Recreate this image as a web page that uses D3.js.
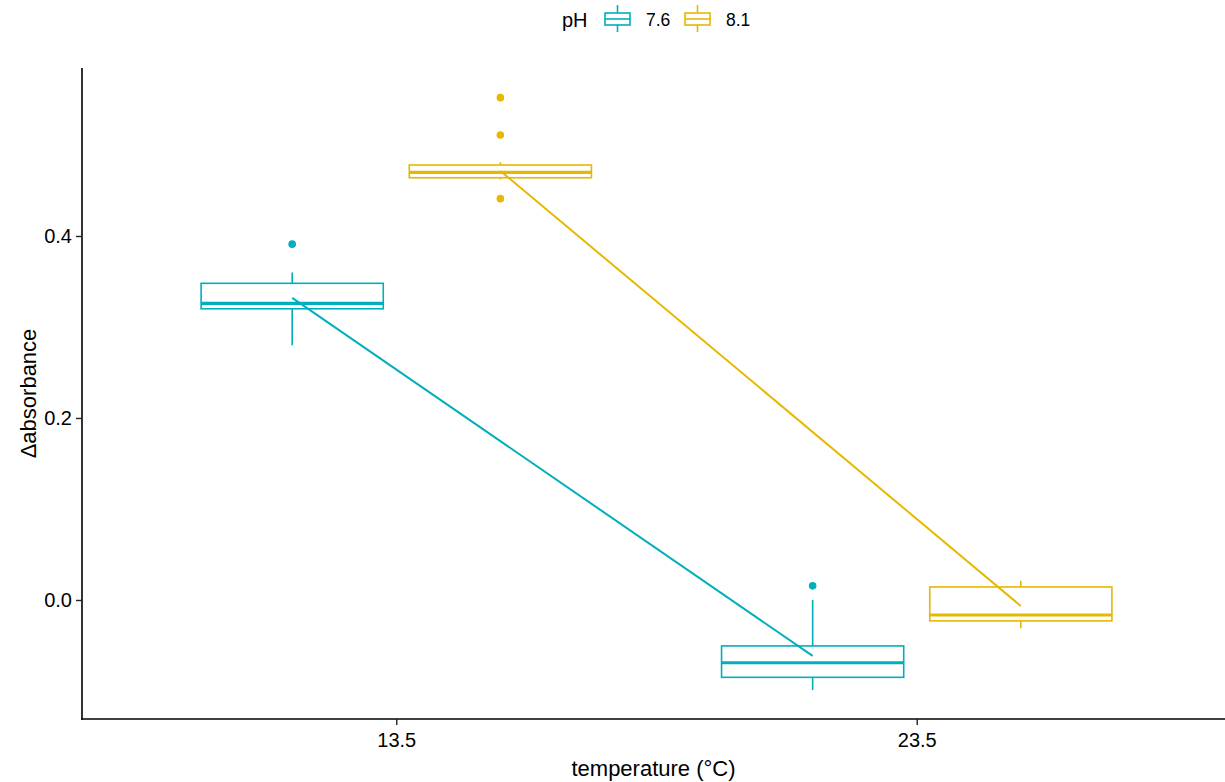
<!DOCTYPE html>
<meta charset="utf-8">
<script src="https://d3js.org/d3.v7.min.js"></script>
<style>
  body { margin: 0; background: #fff; }
  text { font-family: "Liberation Sans", Arial, sans-serif; }
</style>
<div id="my_dataviz"></div>
<script>

// data
const temps = ["13.5", "23.5"];
const phLevels = ["7.6", "8.1"];
const colors = ["#00AFBB", "#E7B800"];

// box stats, one entry per temp, per pH series
const whiskerLow  = { "7.6": [0.280, -0.099], "8.1": [0.462, -0.031] };
const q1          = { "7.6": [0.320, -0.085], "8.1": [0.464, -0.023] };
const medians     = { "7.6": [0.326, -0.069], "8.1": [0.470, -0.0165] };
const q3          = { "7.6": [0.348, -0.0505], "8.1": [0.478, 0.0143] };
const whiskerHigh = { "7.6": [0.360, 0.000], "8.1": [0.481, 0.021] };
const means       = { "7.6": [0.332, -0.0615], "8.1": [0.4715, -0.0066] };
const outliers    = { "7.6": [[0.391], [0.0155]], "8.1": [[0.552, 0.511, 0.441], []] };

const yTicks = [0.0, 0.2, 0.4];

var W = 1225, H = 782;
var margin = {top: 68, right: 0, bottom: 63, left: 82};

var svg = d3.select("#my_dataviz")
    .append("svg")
    .attr("width", W)
    .attr("height", H);

// x positions like ggplot discrete axis (0.6 expansion)
var x = d3.scalePoint()
    .domain(temps)
    .range([margin.left + 2, W + 4])
    .padding(0.6);
var step = x.step();
var dodge = d3.scaleOrdinal().domain(phLevels).range([-0.2 * step, 0.2 * step]);
var boxW = 0.35 * step;

var y = d3.scaleLinear()
    .domain([-0.1308, 0.5846])
    .range([H - margin.bottom, margin.top]);

var color = d3.scaleOrdinal().domain(phLevels).range(colors);

// axes
var yAxis = svg.append("g")
    .attr("transform", "translate(" + margin.left + ",0)")
    .call(d3.axisLeft(y).tickValues(yTicks).tickFormat(d3.format(".1f")).tickSize(6).tickPadding(4));
var xAxis = svg.append("g")
    .attr("transform", "translate(0," + (H - margin.bottom) + ")")
    .call(d3.axisBottom(x).tickSize(6).tickPadding(8));

[xAxis, yAxis].forEach(function(a) {
  a.attr("font-size", null).attr("font-family", null);
  a.select(".domain").attr("stroke", "#000").attr("stroke-width", 1.6);
  a.selectAll(".tick line").attr("stroke", "#222").attr("stroke-width", 1.4);
  a.selectAll(".tick text").attr("fill", "#000").style("font-size", "20px");
});
// stretch x domain line to the full panel
xAxis.select(".domain").attr("d", "M" + (margin.left - 0.8) + ",0H" + W);
yAxis.select(".domain").attr("d", "M0," + margin.top + "V" + (H - margin.bottom + 0.8));

svg.append("text")
    .attr("x", (margin.left + W) / 2)
    .attr("y", 776)
    .attr("text-anchor", "middle")
    .style("font-size", "22px")
    .text("temperature (°C)");

svg.append("text")
    .attr("transform", "translate(36," + ((margin.top + H - margin.bottom) / 2) + ") rotate(-90)")
    .attr("text-anchor", "middle")
    .style("font-size", "22px")
    .text("Δabsorbance");

// boxplots
phLevels.forEach(function(ph) {
  var c = color(ph);
  var g = svg.append("g");
  temps.forEach(function(t, i) {
    var cx = x(t) + dodge(ph);
    g.append("line")
        .attr("x1", cx).attr("x2", cx)
        .attr("y1", y(whiskerHigh[ph][i])).attr("y2", y(q3[ph][i]))
        .attr("stroke", c).attr("stroke-width", 1.6);
    g.append("line")
        .attr("x1", cx).attr("x2", cx)
        .attr("y1", y(q1[ph][i])).attr("y2", y(whiskerLow[ph][i]))
        .attr("stroke", c).attr("stroke-width", 1.6);
    g.append("rect")
        .attr("x", cx - boxW / 2)
        .attr("width", boxW)
        .attr("y", y(q3[ph][i]))
        .attr("height", y(q1[ph][i]) - y(q3[ph][i]))
        .attr("fill", "#fff")
        .attr("stroke", c).attr("stroke-width", 1.6);
    g.append("line")
        .attr("x1", cx - boxW / 2).attr("x2", cx + boxW / 2)
        .attr("y1", y(medians[ph][i])).attr("y2", y(medians[ph][i]))
        .attr("stroke", c).attr("stroke-width", 3.2);
    g.selectAll(null).data(outliers[ph][i]).enter()
        .append("circle")
        .attr("cx", cx)
        .attr("cy", function(d) { return y(d); })
        .attr("r", 3.8)
        .attr("fill", c);
  });
});

// mean lines
phLevels.forEach(function(ph) {
  var line = d3.line()
      .x(function(d, i) { return x(temps[i]) + dodge(ph); })
      .y(function(d) { return y(d); });
  svg.append("path")
      .datum(means[ph])
      .attr("d", line)
      .attr("fill", "none")
      .attr("stroke", color(ph))
      .attr("stroke-width", 2);
});

// legend
var legend = svg.append("g");
legend.append("text")
    .attr("x", 562).attr("y", 27)
    .style("font-size", "20px")
    .text("pH");
var keyX = [605, 685];
phLevels.forEach(function(ph, i) {
  var kx = keyX[i], c = color(ph);
  var k = legend.append("g");
  k.append("line").attr("x1", kx + 12.5).attr("x2", kx + 12.5).attr("y1", 5).attr("y2", 32)
      .attr("stroke", c).attr("stroke-width", 1.6);
  k.append("rect").attr("x", kx).attr("y", 13).attr("width", 25).attr("height", 12)
      .attr("fill", "#fff").attr("stroke", c).attr("stroke-width", 1.6);
  k.append("line").attr("x1", kx).attr("x2", kx + 25).attr("y1", 19).attr("y2", 19)
      .attr("stroke", c).attr("stroke-width", 1.6);
  legend.append("text")
      .attr("x", kx + 41).attr("y", 26)
      .style("font-size", "17.5px")
      .text(ph);
});

</script>
